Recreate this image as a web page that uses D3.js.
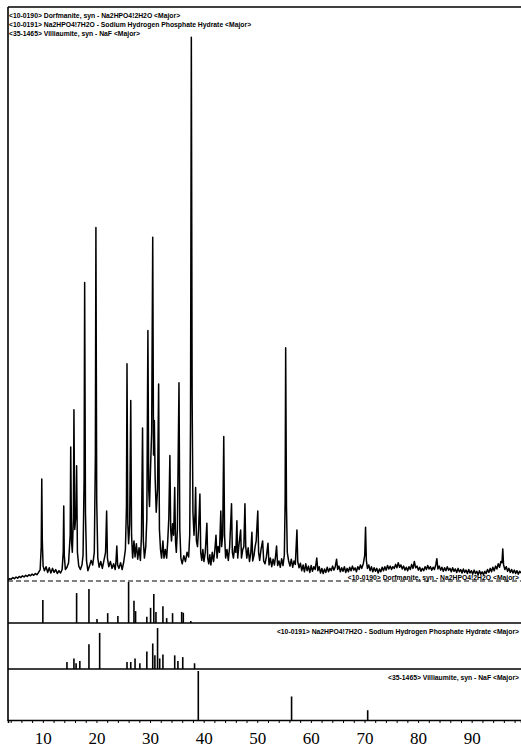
<!DOCTYPE html>
<html>
<head>
<meta charset="utf-8">
<script src="https://cdn.jsdelivr.net/npm/d3@7"></script>
<style>
  html, body { margin: 0; padding: 0; background: #fff; }
  svg { display: block; }
</style>
</head>
<body>
<svg id="chart" width="521" height="749"></svg>
<script>
// ---------------- DATA ----------------
const phaseLabels = [
  "<10-0190> Dorfmanite, syn - Na2HPO4!2H2O <Major>",
  "<10-0191> Na2HPO4!7H2O - Sodium Hydrogen Phosphate Hydrate <Major>",
  "<35-1465> Villiaumite, syn - NaF <Major>"
];
const xTickLabels = [10, 20, 30, 40, 50, 60, 70, 80, 90];

// observed scan: [2-theta, relative intensity]
const observedScan = [
[3.5,0.2],[3.8,0.4],[4.1,0.3],[4.4,0.6],[4.7,0.4],[5.0,0.7],[5.3,0.5],[5.6,0.8],[5.9,0.6],[6.2,0.9],[6.5,0.7],[6.8,1.0],[7.1,0.8],[7.4,1.1],[7.7,0.9],[8.0,1.2],[8.3,1.0],[8.6,1.3],[8.9,1.1],[9.2,1.5],[9.5,2.0],
[9.7,6],[9.8,17.8],[9.9,7],[10.05,2.6],[10.3,1.8],
[10.6,2.5],[10.9,1.5],[11.2,2.3],[11.5,1.4],[11.8,2.2],[12.1,1.5],[12.4,2.0],[12.7,1.3],[13.0,1.8],[13.3,1.4],[13.6,2.0],
[13.8,5],[13.9,13.1],[14.0,4.5],[14.2,2.0],[14.5,2.4],[14.8,3.2],
[15.1,8],[15.2,23.4],[15.35,7],[15.5,5],
[15.7,11],[15.8,29.9],[15.95,9],
[16.2,12],[16.3,20.1],[16.45,5],[16.7,2.6],[17.0,2.0],[17.3,2.8],[17.5,4.5],
[17.7,18],[17.8,52.1],[17.95,12],[18.15,3.5],[18.4,1.8],[18.7,2.6],[19.0,3.6],[19.3,2.8],[19.6,5],
[19.8,22],[19.9,61.7],[20.05,14],[20.25,4],[20.5,2.4],[20.8,3.4],[21.1,2.2],[21.4,3.6],[21.7,5],
[21.9,12.2],[22.05,4],[22.3,2.5],[22.6,3.4],[22.9,2.2],[23.2,3.0],[23.5,2.0],[23.65,3.5],
[23.8,6.1],[23.95,2.8],[24.2,2.2],[24.5,3.2],[24.8,2.0],[25.1,3.4],[25.4,5.5],
[25.6,13],[25.7,37.9],[25.85,10],[26.0,6.5],[26.2,10],
[26.4,31.5],[26.55,8],[26.75,4],[27.0,7],[27.2,4.2],[27.45,6.5],[27.7,3.8],[27.95,5.8],[28.2,3.6],[28.4,8],
[28.6,26.7],[28.75,7],[28.95,4],[29.2,6],[29.4,11],
[29.6,43.7],[29.75,16],[29.9,13],[30.1,20],[30.3,26],
[30.5,60.0],[30.65,22],[30.8,28],[30.95,18],[31.15,12],[31.4,16],
[31.6,34.4],[31.75,9],[31.95,5.5],[32.15,4],[32.4,7],[32.6,4],[32.85,5.5],[33.1,4],[33.3,7],[33.5,11],
[33.7,21.9],[33.85,9],[34.0,7],[34.2,10],[34.4,8],
[34.6,16.3],[34.75,7],[34.9,5],[35.1,9],
[35.4,34.6],[35.55,9],[35.75,4],[36.0,3.0],[36.3,4.4],[36.6,3.4],[36.9,5.0],[37.2,4.2],[37.4,8],
[37.55,28],[37.7,94.9],[37.85,32],[38.0,12],[38.2,8],[38.4,12],
[38.5,16.3],[38.65,7],[38.85,6],[39.05,9],
[39.3,15.2],[39.45,5],[39.65,3.6],[39.85,5.5],[40.05,3.4],[40.3,5],
[40.6,10.1],[40.75,4],[40.95,3.0],[41.15,4.6],[41.35,2.8],[41.6,5],[41.85,3.4],[42.1,5.5],[42.3,8],[42.5,4],[42.7,6],[42.95,5],
[43.2,12.2],[43.35,6],[43.55,8],
[43.75,25.2],[43.9,8],[44.1,4],[44.35,5.5],[44.6,3.6],[44.85,6],
[45.2,13.5],[45.35,5],[45.55,4],[45.8,6],[46.0,5],
[46.2,10.5],[46.35,4],[46.55,6],
[46.9,8.9],[47.05,4],[47.3,5.5],[47.5,6],
[47.7,13.5],[47.85,6],[48.05,4],[48.3,5.8],[48.55,3.4],[48.8,5],[49.0,8.5],[49.15,3.5],[49.4,4.5],[49.6,6],[49.8,7],
[50.1,12.2],[50.25,5],[50.45,3.6],[50.7,5.5],[51.0,7],[51.2,3.5],[51.45,3.0],[51.7,4.2],
[52.0,6.6],[52.2,2.8],[52.45,4.0],[52.7,2.5],[52.95,3.8],[53.2,2.8],[53.4,4.2],
[53.6,6.1],[53.8,2.7],[54.05,3.5],[54.3,2.4],[54.55,3.9],[54.8,2.7],[55.05,4.5],
[55.2,14],[55.3,40.7],[55.45,13],[55.6,5],[55.85,3.5],[56.1,2.6],[56.35,3.8],[56.6,2.4],[56.85,3.5],[57.1,2.9],
[57.4,8.9],[57.55,3.4],[57.8,2.3],[58.05,3.1],[58.3,1.8],[58.55,2.8],[58.8,1.6],[59.05,3.0],[59.3,1.8],[59.55,2.6],[59.8,1.5],[60.05,2.7],[60.3,1.7],[60.55,2.5],[60.8,2.0],
[61.1,4.0],[61.3,1.8],[61.55,2.5],[61.8,1.4],[62.05,2.2],[62.3,1.3],[62.55,2.1],[62.8,1.5],[63.05,2.4],[63.3,1.6],[63.55,2.2],[63.8,1.8],[64.05,2.6],[64.3,1.9],[64.55,2.5],
[64.8,3.8],[65.0,2.0],[65.25,2.6],[65.5,1.6],[65.75,2.3],[66.0,1.7],[66.25,2.5],[66.5,1.5],[66.75,2.2],[67.0,1.6],[67.25,2.4],[67.5,1.8],[67.75,2.6],[68.0,1.9],[68.25,2.3],[68.5,1.6],[68.75,2.5],[69.0,2.0],[69.25,2.8],[69.5,2.2],[69.8,3.1],
[70.05,4.5],[70.2,9.4],[70.35,3.6],[70.55,2.2],[70.8,2.8],[71.05,1.8],[71.3,2.5],[71.55,1.6],[71.8,2.3],[72.05,1.7],[72.3,2.2],[72.55,1.4],[72.8,2.1],[73.05,1.6],[73.3,2.4],[73.55,1.8],[73.8,2.5],[74.05,1.9],[74.3,2.7],[74.55,2.1],[74.8,2.6],[75.05,2.0],[75.3,2.5],[75.55,2.2],[75.8,2.9],[76.05,2.3],[76.3,3.2],[76.55,2.4],[76.8,2.8],[77.05,2.1],[77.3,2.6],[77.55,1.9],[77.8,2.4],[78.05,1.8],[78.3,2.5],[78.55,2.0],[78.8,2.9],[79.05,2.2],[79.3,3.4],[79.55,2.3],[79.8,2.6],[80.05,1.9],[80.3,2.4],[80.55,1.7],[80.8,2.2],[81.05,1.8],[81.3,2.5],[81.55,2.0],[81.8,2.7],[82.05,2.1],[82.3,2.5],[82.55,1.9],[82.8,2.4],[83.05,2.0],[83.3,2.8],
[83.5,3.9],[83.7,2.1],[83.95,2.6],[84.2,1.9],[84.45,2.4],[84.7,1.7],[84.95,2.3],[85.2,1.8],[85.45,2.5],[85.7,1.9],[85.95,2.2],[86.2,1.6],[86.45,2.3],[86.7,1.7],[86.95,2.1],[87.2,1.5],[87.45,2.2],[87.7,1.6],[87.95,2.0],[88.2,1.4],[88.45,2.1],[88.7,1.5],[88.95,1.9],[89.2,1.3],[89.45,2.0],[89.7,1.4],[89.95,1.8],[90.2,1.2],[90.45,1.9],[90.7,1.3],[90.95,1.7],[91.2,1.1],[91.45,1.8],[91.7,1.2],[91.95,1.6],[92.2,1.1],[92.45,1.7],[92.7,1.3],[92.95,2.0],[93.2,1.5],[93.45,2.2],[93.7,1.6],[93.95,2.4],[94.2,1.8],[94.45,2.6],[94.7,2.1],[94.95,3.0],[95.2,2.4],[95.45,3.4],
[95.65,3.2],[95.8,5.6],[95.95,2.8],[96.2,2.0],[96.45,2.5],[96.7,1.7],[96.95,2.2],[97.2,1.5],[97.45,2.0],[97.7,1.4],[97.95,1.9],[98.2,1.3],[98.45,1.8],[98.7,1.2],[98.95,1.7],[99.2,1.4]
];

// reference stick patterns: [2-theta, relative intensity]
const dorfmaniteSticks = [
[10.0,56],[16.3,73],[18.6,83],[20.1,10],[22.1,24],[24.0,17],[26.0,100],[27.0,54],[27.3,29],
[29.4,15],[30.1,37],[30.7,71],[31.1,27],[32.4,41],[33.1,12],[34.2,24],[35.9,27],[36.2,25],[37.6,5]
];
const hydrateSticks = [
[14.5,16],[15.8,24],[16.2,13],[16.9,18],[18.6,56],[20.6,82],[25.7,16],[26.4,16],[27.2,24],[28.1,13],
[29.4,40],[30.5,58],[30.9,31],[31.4,93],[31.8,24],[32.4,33],[34.6,31],[35.2,18],[36.1,27],[38.3,13]
];
const villiaumiteSticks = [
[39.0,100],[56.4,48],[70.6,20]
];

// ---------------- DRAW ----------------
const svg = d3.select("#chart");
const W = 521;

const x = d3.scaleLinear().domain([3.5, 99.2]).range([8, 521]);
const yMain = d3.scaleLinear().domain([0, 100]).range([581, 8]);
const yP1 = d3.scaleLinear().domain([0, 100]).range([623, 582]);
const yP2 = d3.scaleLinear().domain([0, 100]).range([669, 625]);
const yP3 = d3.scaleLinear().domain([0, 100]).range([720, 671]);

svg.append("defs").append("clipPath").attr("id", "plotclip")
  .append("rect").attr("x", 8).attr("y", 0).attr("width", W - 8).attr("height", 722);

const plot = svg.append("g").attr("clip-path", "url(#plotclip)");

// frame
svg.append("line").attr("x1", 8).attr("x2", W).attr("y1", 7).attr("y2", 7)
  .attr("stroke", "#000").attr("stroke-width", 1.6);
svg.append("line").attr("x1", 8).attr("x2", 8).attr("y1", 7).attr("y2", 721)
  .attr("stroke", "#000").attr("stroke-width", 1.6);

// panel separators
svg.append("line").attr("x1", 8).attr("x2", W).attr("y1", 581).attr("y2", 581)
  .attr("stroke", "#000").attr("stroke-width", 1).attr("stroke-dasharray", "5,3");
svg.append("line").attr("x1", 8).attr("x2", W).attr("y1", yP1(0)).attr("y2", yP1(0))
  .attr("stroke", "#000").attr("stroke-width", 1.4);
svg.append("line").attr("x1", 8).attr("x2", W).attr("y1", yP2(0)).attr("y2", yP2(0))
  .attr("stroke", "#000").attr("stroke-width", 1.4);

// observed trace
const line = d3.line().x(d => x(d[0])).y(d => yMain(d[1]));
plot.append("path").datum(observedScan)
  .attr("d", line)
  .attr("fill", "none").attr("stroke", "#000")
  .attr("stroke-width", 1.5).attr("stroke-linejoin", "round");

// stick panels
function sticks(data, yS) {
  plot.append("g").selectAll("line").data(data).join("line")
    .attr("x1", d => x(d[0])).attr("x2", d => x(d[0]))
    .attr("y1", yS(0)).attr("y2", d => yS(d[1]))
    .attr("stroke", "#000").attr("stroke-width", 1.6);
}
sticks(dorfmaniteSticks, yP1);
sticks(hydrateSticks, yP2);
sticks(villiaumiteSticks, yP3);

// x axis
const tickVals = d3.range(4, 99, 2);
const axis = d3.axisBottom(x).tickValues(tickVals).tickSize(3)
  .tickFormat(d => xTickLabels.includes(d) ? String(d) : "");
const gAx = svg.append("g").attr("transform", "translate(0,720)").call(axis);
gAx.select(".domain").attr("stroke", "#000").attr("stroke-width", 1.6);
gAx.selectAll(".tick line").attr("stroke", "#000").attr("stroke-width", 1);
gAx.selectAll(".tick text")
  .attr("y", 24).attr("dy", 0)
  .attr("font-family", "'Liberation Serif', 'Times New Roman', serif")
  .attr("font-size", 17).attr("fill", "#000");

// legend at top-left
svg.append("g").selectAll("text").data(phaseLabels).join("text")
  .attr("x", 9).attr("y", (d, i) => 17.5 + i * 9)
  .attr("font-family", "'Liberation Sans', Arial, sans-serif")
  .attr("font-size", 6.8).attr("font-weight", "bold").attr("fill", "#000")
  .text(d => d);

// panel labels (right-aligned)
const panelLabelY = [580, 633.5, 679.5];
svg.append("g").selectAll("text").data(phaseLabels).join("text")
  .attr("x", 519).attr("y", (d, i) => panelLabelY[i])
  .attr("text-anchor", "end")
  .attr("font-family", "'Liberation Sans', Arial, sans-serif")
  .attr("font-size", 6.8).attr("font-weight", "bold").attr("fill", "#000")
  .text(d => d);
</script>
</body>
</html>
